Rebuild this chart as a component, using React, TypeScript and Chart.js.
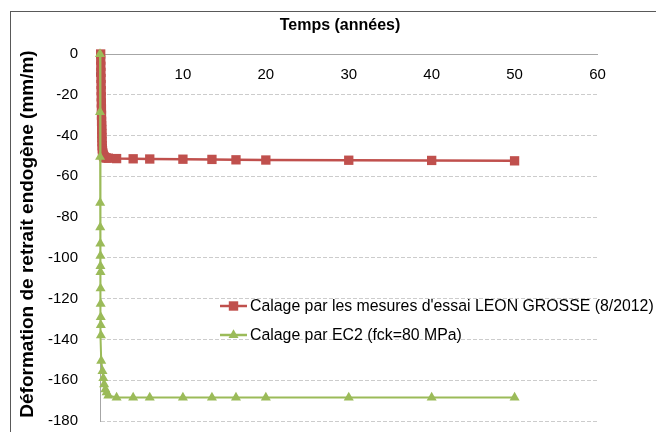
import React, { useEffect, useRef } from "react";
import { Chart, registerables } from "chart.js";

Chart.register(...registerables);

// ---- Data ----
const redYears = [
  0.08, 0.09, 0.1, 0.11, 0.12, 0.13, 0.14, 0.15, 0.16, 0.17,
  0.18, 0.19, 0.2, 0.21, 0.22, 0.23, 0.24, 0.26, 0.28, 0.3,
  0.33, 0.36, 0.4, 0.45, 0.5, 0.6, 0.75, 1, 2, 4,
  6, 10, 13.5, 16.4, 20, 30, 40, 50,
];
const redValues = [
  0, -3, -6, -9, -12, -15, -18, -21, -24, -27,
  -30, -33, -35, -37, -39, -41, -43, -45, -46.5, -47.5,
  -48.5, -49.2, -49.8, -50.2, -50.5, -50.8, -51, -51.1, -51.3, -51.4,
  -51.5, -51.6, -51.7, -51.9, -52, -52.1, -52.2, -52.4,
];
const greenYears = [
  0, 0.003, 0.008, 0.02, 0.03, 0.04, 0.05, 0.055, 0.06, 0.07,
  0.08, 0.09, 0.1, 0.11, 0.15, 0.3, 0.4, 0.5, 0.65, 0.8,
  1, 2, 4, 6, 10, 13.5, 16.4, 20, 30, 40, 50,
];
const greenValues = [
  0, -28.5, -50.5, -73, -85, -93, -99, -104, -107, -115,
  -122.5, -129, -133, -138, -150.5, -155.5, -159, -162, -164.5, -166,
  -167.5, -168.5, -168.5, -168.5, -168.5, -168.5, -168.5, -168.5, -168.5, -168.5, -168.5,
];

const redLabel = "Calage par les mesures d'essai LEON GROSSE (8/2012)";
const greenLabel = "Calage par EC2 (fck=80 MPa)";
const xTitle = "Temps (années)";
const yTitle = "Déformation de retrait endogène (mm/m)";

const xMin = 0;
const xMax = 60;
const xStep = 10;
const yMin = -180;
const yMax = 0;
const yStep = 20;

const RED = "#c0504d";
const GREEN = "#9bbb59";
const FONT = "'Liberation Sans', Arial, sans-serif";

const textPlugin = {
  id: "customTexts",
  afterDraw(chart: any) {
    const ctx = chart.ctx as CanvasRenderingContext2D;
    ctx.save();
    ctx.fillStyle = "#000";
    ctx.textBaseline = "middle";

    // top title
    ctx.font = `bold 16px ${FONT}`;
    ctx.textAlign = "center";
    ctx.fillText(xTitle, 329, 14);

    // y title
    ctx.save();
    ctx.translate(17, 222);
    ctx.rotate(-Math.PI / 2);
    ctx.font = `bold 19px ${FONT}`;
    ctx.fillText(yTitle, 0, 0);
    ctx.restore();

    // legend
    const items = [
      { label: redLabel, color: RED, style: "rect", y: 294 },
      { label: greenLabel, color: GREEN, style: "triangle", y: 323 },
    ];
    for (const it of items) {
      ctx.strokeStyle = it.color;
      ctx.lineWidth = 2.5;
      ctx.beginPath();
      ctx.moveTo(209, it.y);
      ctx.lineTo(236, it.y);
      ctx.stroke();
      ctx.fillStyle = it.color;
      const cx = 222.5;
      if (it.style === "rect") {
        ctx.fillRect(cx - 4.7, it.y - 4.7, 9.4, 9.4);
      } else {
        const r = 5.8;
        ctx.beginPath();
        ctx.moveTo(cx, it.y - r);
        ctx.lineTo(cx + r * 0.866, it.y + r * 0.5);
        ctx.lineTo(cx - r * 0.866, it.y + r * 0.5);
        ctx.closePath();
        ctx.fill();
      }
      ctx.fillStyle = "#000";
      ctx.textAlign = "left";
      ctx.font = `15.85px ${FONT}`;
      ctx.fillText(it.label, 239, it.y + 1);
    }
    ctx.restore();
  },
};

export default function App() {
  const canvasRef = useRef<HTMLCanvasElement | null>(null);

  useEffect(() => {
    const canvas = canvasRef.current;
    if (!canvas) return;
    const redData = redYears.map((x, i) => ({ x, y: redValues[i] }));
    const greenData = greenYears.map((x, i) => ({ x, y: greenValues[i] }));

    const chart = new Chart(canvas, {
      type: "line",
      data: {
        datasets: [
          {
            label: redLabel,
            data: redData,
            borderColor: RED,
            backgroundColor: RED,
            borderWidth: 2.5,
            pointStyle: "rect",
            pointRadius: 6.6,
            pointBorderWidth: 0,
            pointBackgroundColor: RED,
            tension: 0,
            clip: false,
            order: 1,
          } as any,
          {
            label: greenLabel,
            data: greenData,
            borderColor: GREEN,
            backgroundColor: GREEN,
            borderWidth: 2,
            pointStyle: "triangle",
            pointRadius: 5.8,
            pointBorderWidth: 0,
            pointBackgroundColor: GREEN,
            tension: 0,
            clip: false,
            order: 0,
          } as any,
        ],
      },
      options: {
        responsive: false,
        animation: false,
        devicePixelRatio: 1,
        parsing: false as any,
        layout: { padding: { left: 0, top: 42, right: 73.5, bottom: 12 } },
        plugins: {
          legend: { display: false },
          tooltip: { enabled: false },
          title: { display: false },
        },
        scales: {
          x: {
            type: "linear",
            min: xMin,
            max: xMax,
            position: { y: 0 } as any,
            z: 1,
            ticks: {
              stepSize: xStep,
              color: "#000",
              font: { family: FONT, size: 15 },
              padding: 12,
              maxRotation: 0,
            },
            grid: { display: false, drawTicks: false },
            border: { display: true, color: "#a6a6a6", width: 1 },
          },
          y: {
            type: "linear",
            min: yMin,
            max: yMax,
            afterFit: (scale: any) => {
              scale.width = 89;
            },
            ticks: {
              stepSize: yStep,
              color: "#000",
              font: { family: FONT, size: 15 },
              padding: 22,
            },
            grid: { color: "#cccccc", lineWidth: 1, drawTicks: false },
            border: { display: true, color: "#a6a6a6", width: 1, dash: [4, 2] },
          },
        },
      },
      plugins: [textPlugin],
    });
    return () => chart.destroy();
  }, []);

  return (
    <div
      style={{
        width: 656,
        height: 424,
        overflow: "hidden",
        paddingTop: 3,
        paddingLeft: 2,
        boxSizing: "border-box",
      }}
    >
      <div
        style={{
          width: 662,
          height: 450,
          border: "1px solid #595959",
          background: "#fff",
        }}
      >
        <canvas ref={canvasRef} width={660} height={440} style={{ display: "block" }} />
      </div>
    </div>
  );
}
